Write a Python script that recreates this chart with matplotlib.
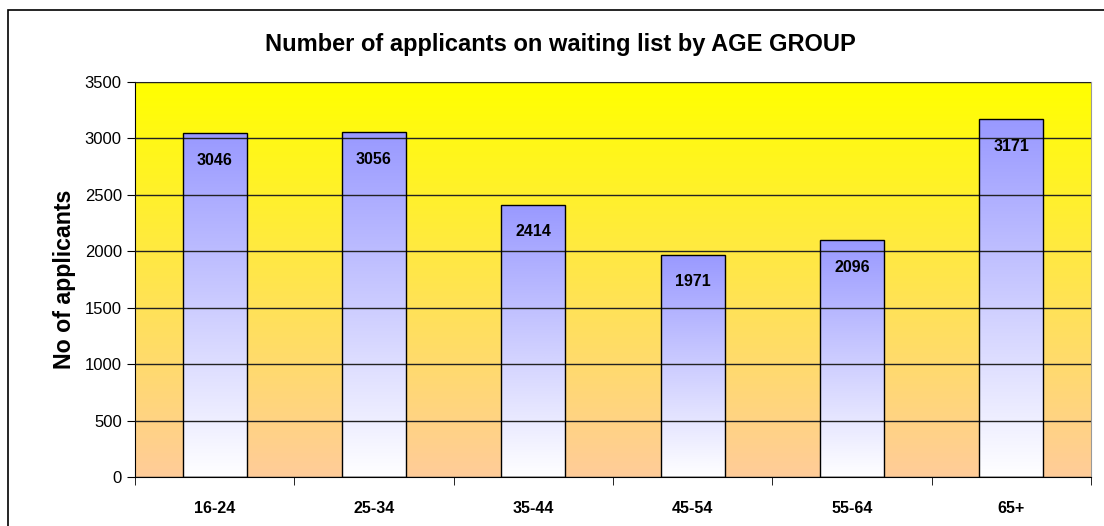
import numpy as np
import matplotlib.pyplot as plt
from matplotlib.patches import Rectangle
from matplotlib.colors import LinearSegmentedColormap

plt.rcParams['font.family'] = ['Liberation Sans', 'DejaVu Sans']

age_groups = ['16-24', '25-34', '35-44', '45-54', '55-64', '65+']
applicants = [3046, 3056, 2414, 1971, 2096, 3171]
y_ticks = [0, 500, 1000, 1500, 2000, 2500, 3000, 3500]

fig = plt.figure(figsize=(11.04, 5.26), dpi=100)
W, H = 1104, 526
ax = fig.add_axes([135 / W, 1 - 477 / H, (1091 - 135) / W, (477 - 82) / H])

# outer frame of the chart
fig.patches.append(Rectangle((8 / W, -0.1), 1.2, 1 - 10 / H + 0.1, transform=fig.transFigure,
                             fill=False, edgecolor='black', linewidth=1.2))

ymax = 3500
x = np.arange(len(age_groups))

# background gradient: yellow at top to peach at bottom
bg = LinearSegmentedColormap.from_list('bg', ['#FFCC99', '#FFFF00'])
grad = np.linspace(0, 1, 256).reshape(-1, 1)
ax.imshow(grad, cmap=bg, origin='lower', aspect='auto',
          extent=[-0.5, len(age_groups) - 0.5, 0, ymax], zorder=0)

ax.set_yticks(y_ticks)
ax.yaxis.grid(True, color='#222222', linewidth=1.0)
ax.set_axisbelow(False)
for line in ax.get_ygridlines():
    line.set_zorder(1)

# bars with blue-to-white gradient
bar_cmap = LinearSegmentedColormap.from_list('bars', ['#FFFFFF', '#9999FF'])
bars = ax.bar(x, applicants, width=0.4, facecolor='none', edgecolor='black', linewidth=1.0, zorder=3)
for b in bars:
    bx, bw, bh = b.get_x(), b.get_width(), b.get_height()
    im = ax.imshow(grad, cmap=bar_cmap, origin='lower', aspect='auto',
                   extent=[bx, bx + bw, 0, bh], zorder=2)
    im.set_clip_path(b)
    ax.annotate(f'{int(bh)}', (bx + bw / 2, bh), xytext=(0, -19.5), textcoords='offset points',
                ha='center', va='center', fontsize=11.5, fontweight='bold', zorder=4)

ax.set_xlim(-0.5, len(age_groups) - 0.5)
ax.set_ylim(0, ymax)

ax.set_xticks(x)
ax.set_xticklabels(age_groups, fontsize=11.5, fontweight='bold')
ax.tick_params(axis='x', length=0, pad=17)
ax.set_xticks(np.arange(-0.5, len(age_groups) + 0.5, 1), minor=True)
ax.tick_params(axis='x', which='minor', length=6, direction='out', color='black')
ax.tick_params(axis='y', labelsize=12, length=6, direction='out')

for s in ['top', 'right']:
    ax.spines[s].set_color('#999999')
for s in ['left', 'bottom']:
    ax.spines[s].set_color('black')

ax.set_ylabel('No of applicants', fontsize=16.7, fontweight='bold', labelpad=6.5)
fig.text((263 + 858) / 2 / W, 1 - 44 / H, 'Number of applicants on waiting list by AGE GROUP',
         ha='center', va='center', fontsize=17, fontweight='bold')

fig.savefig('out.png', dpi=100)
